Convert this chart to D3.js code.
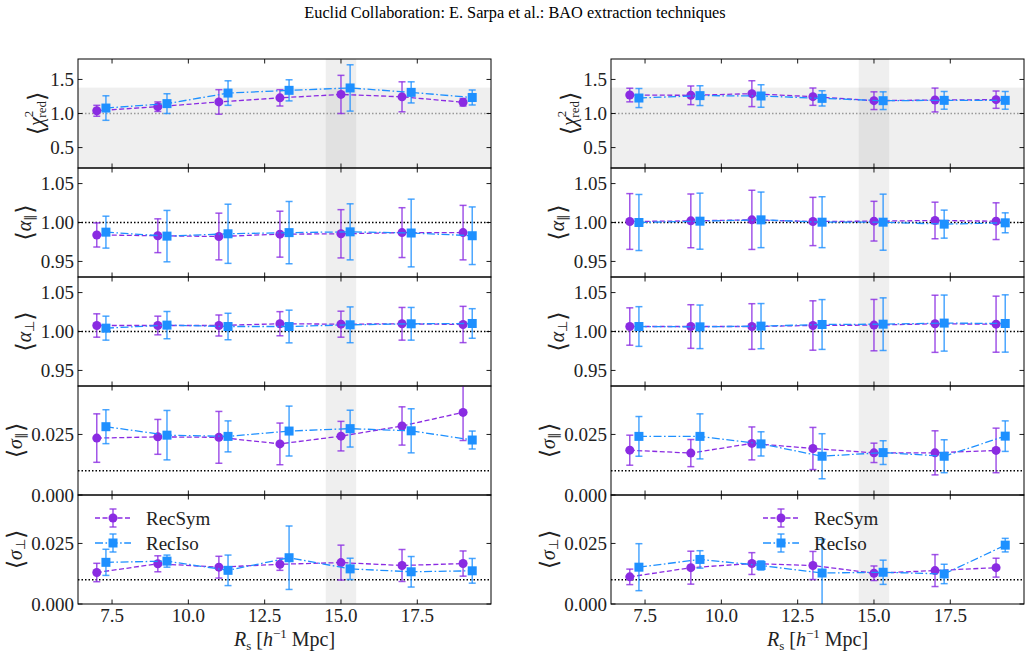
<!DOCTYPE html>
<html><head><meta charset="utf-8">
<script src="https://cdn.jsdelivr.net/npm/d3@7"></script>
<style>body{margin:0;background:#fff} svg text{font-family:"Liberation Serif",serif;}</style>
</head><body>
<svg id="c" width="1031" height="657" xmlns="http://www.w3.org/2000/svg"></svg>
<script>
// ---------------- DATA ----------------
const RsSym = [7, 9, 11, 13, 15, 17, 19];
const RsIso = [7.3, 9.3, 11.3, 13.3, 15.3, 17.3, 19.3];
const seriesNames = ["RecSym", "RecIso"];
const xTicks = [7.5, 10.0, 12.5, 15.0, 17.5];
const chiTicks = [0.5, 1.0, 1.5];
const alphaTicks = [0.95, 1.00, 1.05];
const sigmaTicks = [0.000, 0.025];
const bandRs = [14.5, 15.5];
const chiBandTop = 1.38;

// Left column
const L_chiSym = [1.04, 1.10, 1.17, 1.23, 1.28, 1.245, 1.165];
const L_chiSymErr = [0.08, 0.07, 0.18, 0.12, 0.28, 0.22, 0.055];
const L_chiIso = [1.08, 1.145, 1.30, 1.34, 1.375, 1.31, 1.235];
const L_chiIsoErr = [0.18, 0.145, 0.18, 0.155, 0.34, 0.155, 0.11];
const L_apaSym = [0.984, 0.983, 0.982, 0.985, 0.9855, 0.987, 0.987];
const L_apaSymErr = [0.0155, 0.0217, 0.030, 0.0295, 0.031, 0.032, 0.035];
const L_apaIso = [0.9876, 0.9825, 0.9855, 0.987, 0.988, 0.9865, 0.983];
const L_apaIsoErr = [0.0205, 0.033, 0.038, 0.040, 0.036, 0.0435, 0.037];
const L_apeSym = [1.0077, 1.0077, 1.0077, 1.0100, 1.0094, 1.0099, 1.0090];
const L_apeSymErr = [0.015, 0.012, 0.0135, 0.0155, 0.0167, 0.021, 0.0233];
const L_apeIso = [1.0043, 1.0082, 1.0064, 1.0064, 1.0086, 1.0099, 1.0103];
const L_apeIsoErr = [0.0154, 0.0175, 0.017, 0.021, 0.023, 0.021, 0.019];
const L_spaSym = [0.0235, 0.0240, 0.0238, 0.0211, 0.0243, 0.0285, 0.0341];
const L_spaSymErr = [0.0100, 0.0072, 0.0107, 0.0086, 0.0061, 0.0079, 0.0116];
const L_spaIso = [0.0282, 0.0247, 0.0242, 0.0264, 0.0274, 0.0265, 0.0227];
const L_spaIsoErr = [0.0070, 0.0102, 0.0064, 0.0103, 0.0076, 0.0091, 0.0037];
const L_speSym = [0.0130, 0.0166, 0.0152, 0.0164, 0.0171, 0.0159, 0.0167];
const L_speSymErr = [0.0038, 0.0033, 0.0045, 0.0025, 0.0072, 0.0066, 0.0052];
const L_speIso = [0.0172, 0.0177, 0.0139, 0.0191, 0.0145, 0.0133, 0.0137];
const L_speIsoErr = [0.0054, 0.0025, 0.0063, 0.0131, 0.0044, 0.0063, 0.0051];

// Right column
const R_chiSym = [1.271, 1.267, 1.291, 1.247, 1.188, 1.198, 1.203];
const R_chiSymErr = [0.10, 0.137, 0.19, 0.127, 0.13, 0.175, 0.127];
const R_chiIso = [1.227, 1.262, 1.257, 1.222, 1.188, 1.193, 1.193];
const R_chiIsoErr = [0.14, 0.145, 0.165, 0.112, 0.13, 0.13, 0.13];
const R_apaSym = [1.0013, 1.0021, 1.0034, 1.0013, 1.0017, 1.0026, 1.0017];
const R_apaSymErr = [0.0358, 0.0345, 0.038, 0.031, 0.0255, 0.0235, 0.0236];
const R_apaIso = [1.0000, 1.0017, 1.0034, 1.0004, 1.0004, 0.9979, 0.9996];
const R_apaIsoErr = [0.036, 0.036, 0.0357, 0.0327, 0.036, 0.018, 0.0128];
const R_apeSym = [1.0064, 1.0064, 1.0064, 1.0077, 1.0082, 1.0099, 1.0094];
const R_apeSymErr = [0.024, 0.028, 0.0293, 0.0317, 0.033, 0.0367, 0.036];
const R_apeIso = [1.0064, 1.0060, 1.0069, 1.0090, 1.0094, 1.0108, 1.0103];
const R_apeIsoErr = [0.0255, 0.028, 0.029, 0.032, 0.0338, 0.036, 0.0368];
const R_spaSym = [0.0185, 0.0173, 0.0213, 0.0192, 0.0174, 0.0174, 0.0184];
const R_spaSymErr = [0.0062, 0.0056, 0.0068, 0.0087, 0.0040, 0.0091, 0.0092];
const R_spaIso = [0.0242, 0.0242, 0.0211, 0.0160, 0.0175, 0.0160, 0.0243];
const R_spaIsoErr = [0.0082, 0.0093, 0.0050, 0.0093, 0.0049, 0.0068, 0.0063];
const R_speSym = [0.0112, 0.0150, 0.0167, 0.0159, 0.0127, 0.0138, 0.0150];
const R_speSymErr = [0.0032, 0.0068, 0.0045, 0.0058, 0.0030, 0.0066, 0.0039];
const R_speIso = [0.0152, 0.0184, 0.0159, 0.0128, 0.0131, 0.0124, 0.0243];
const R_speIsoErr = [0.0097, 0.0036, 0.0019, 0.0139, 0.0050, 0.0040, 0.0028];

// ---------------- LAYOUT / STYLE ----------------
const W = 1031, H = 657;
const colX = [[78, 491], [611, 1024]];
const rowTop = 59, rowH = 109;
const cSym = "#8a2be2", cIso = "#1e90ff";
const FONT = "Liberation Serif, serif";

const rows = [
  {id: "chi", domain: [0.2, 1.8], ticks: chiTicks, fmt: d3.format(".1f"), ref: 1.0, refColor: "#999", labOff: 40,
   data: [[L_chiSym, L_chiSymErr, L_chiIso, L_chiIsoErr], [R_chiSym, R_chiSymErr, R_chiIso, R_chiIsoErr]]},
  {id: "apa", domain: [0.93, 1.07], ticks: alphaTicks, fmt: d3.format(".2f"), ref: 1.0, refColor: "#000", labOff: 52,
   data: [[L_apaSym, L_apaSymErr, L_apaIso, L_apaIsoErr], [R_apaSym, R_apaSymErr, R_apaIso, R_apaIsoErr]]},
  {id: "ape", domain: [0.93, 1.07], ticks: alphaTicks, fmt: d3.format(".2f"), ref: 1.0, refColor: "#000", labOff: 52,
   data: [[L_apeSym, L_apeSymErr, L_apeIso, L_apeIsoErr], [R_apeSym, R_apeSymErr, R_apeIso, R_apeIsoErr]]},
  {id: "spa", domain: [0, 0.045], ticks: sigmaTicks, fmt: d3.format(".3f"), ref: 0.01, refColor: "#000", labOff: 61,
   data: [[L_spaSym, L_spaSymErr, L_spaIso, L_spaIsoErr], [R_spaSym, R_spaSymErr, R_spaIso, R_spaIsoErr]]},
  {id: "spe", domain: [0, 0.045], ticks: sigmaTicks, fmt: d3.format(".3f"), ref: 0.01, refColor: "#000", labOff: 61,
   data: [[L_speSym, L_speSymErr, L_speIso, L_speIsoErr], [R_speSym, R_speSymErr, R_speIso, R_speIsoErr]]}
];

const svg = d3.select("#c");
svg.append("rect").attr("width", W).attr("height", H).attr("fill", "#fff");

svg.append("text").attr("x", 515).attr("y", 18).attr("text-anchor", "middle")
  .style("font-family", FONT).attr("font-size", 16.3).attr("fill", "#000")
  .text("Euclid Collaboration: E. Sarpa et al.: BAO extraction techniques");

const defs = svg.append("defs");

function ylabel(g, id, x, y) {
  const t = g.append("text").attr("transform", `translate(${x},${y}) rotate(-90)`)
    .attr("text-anchor", "middle").style("font-family", FONT).attr("font-size", 20).attr("fill", "#222")
    .attr("dominant-baseline", "middle");
  t.append("tspan").attr("font-size", 24).style("font-family", "DejaVu Serif, serif").text("\u27E8");
  if (id === "chi") {
    t.append("tspan").attr("font-style", "italic").text("\u03C7");
    t.append("tspan").attr("font-size", 13).attr("dy", -8).text("2");
    t.append("tspan").attr("font-size", 13).attr("dx", -7).attr("dy", 13).text("red");
    t.append("tspan").attr("font-size", 24).attr("dy", -5).style("font-family", "DejaVu Serif, serif").text("\u27E9");
  } else {
    const sym = (id === "apa" || id === "ape") ? "\u03B1" : "\u03C3";
    const sub = (id === "apa" || id === "spa") ? "\u2225" : "\u22A5";
    t.append("tspan").attr("font-style", "italic").text(sym);
    t.append("tspan").attr("font-size", 13).attr("dy", 5).text(sub);
    t.append("tspan").attr("font-size", 24).attr("dy", -5).style("font-family", "DejaVu Serif, serif").text("\u27E9");
  }
}

colX.forEach((cx, ci) => {
  const x = d3.scaleLinear().domain([6.385, 19.915]).range(cx);
  rows.forEach((r, ri) => {
    const y0 = rowTop + ri * rowH, y1 = y0 + rowH;
    const y = d3.scaleLinear().domain(r.domain).range([y1, y0]);
    const g = svg.append("g");
    const cid = `clip${ci}${ri}`;
    defs.append("clipPath").attr("id", cid).append("rect")
      .attr("x", cx[0]).attr("y", y0).attr("width", cx[1] - cx[0]).attr("height", rowH);
    const pg = g.append("g").attr("clip-path", `url(#${cid})`);

    if (r.id === "chi") {
      pg.append("rect").attr("x", cx[0]).attr("width", cx[1] - cx[0])
        .attr("y", y(chiBandTop)).attr("height", y1 - y(chiBandTop))
        .attr("fill", "#808080").attr("fill-opacity", 0.13);
    }
    pg.append("rect").attr("x", x(bandRs[0])).attr("width", x(bandRs[1]) - x(bandRs[0]))
      .attr("y", y0).attr("height", rowH).attr("fill", "#808080").attr("fill-opacity", 0.13);

    pg.append("line").attr("x1", cx[0]).attr("x2", cx[1]).attr("y1", y(r.ref)).attr("y2", y(r.ref))
      .attr("stroke", r.refColor).attr("stroke-width", 1.5).attr("stroke-dasharray", "1.5,2");

    const [vS, eS, vI, eI] = r.data[ci];
    const series = [
      {xs: RsSym, v: vS, e: eS, c: cSym, dash: "5,2.5", shape: "circle"},
      {xs: RsIso, v: vI, e: eI, c: cIso, dash: "8,2.5,1.6,2.5", shape: "square"}
    ];
    series.forEach(s => {
      const pts = s.xs.map((xx, i) => ({x: xx, v: s.v[i], e: s.e[i]}));
      pg.append("path").attr("d", d3.line().x(d => x(d.x)).y(d => y(d.v))(pts))
        .attr("fill", "none").attr("stroke", s.c).attr("stroke-width", 1.3).attr("stroke-dasharray", s.dash);
      const eg = pg.append("g").attr("stroke", s.c).attr("stroke-width", 1.5).attr("stroke-opacity", 0.8);
      pts.forEach(p => {
        const px = x(p.x), yt = y(p.v + p.e), yb = y(p.v - p.e);
        eg.append("line").attr("x1", px).attr("x2", px).attr("y1", yt).attr("y2", yb);
        eg.append("line").attr("x1", px - 3.5).attr("x2", px + 3.5).attr("y1", yt).attr("y2", yt);
        eg.append("line").attr("x1", px - 3.5).attr("x2", px + 3.5).attr("y1", yb).attr("y2", yb);
      });
      pts.forEach(p => {
        if (s.shape === "circle") pg.append("circle").attr("cx", x(p.x)).attr("cy", y(p.v)).attr("r", 4.5).attr("fill", s.c);
        else pg.append("rect").attr("x", x(p.x) - 4.5).attr("y", y(p.v) - 4.5).attr("width", 9).attr("height", 9).attr("fill", s.c);
      });
    });

    g.append("rect").attr("x", cx[0]).attr("y", y0).attr("width", cx[1] - cx[0]).attr("height", rowH)
      .attr("fill", "none").attr("stroke", "#000").attr("stroke-width", 1);
    const tk = g.append("g").attr("stroke", "#000").attr("stroke-width", 0.9);
    xTicks.forEach(t => {
      tk.append("line").attr("x1", x(t)).attr("x2", x(t)).attr("y1", y1).attr("y2", y1 - 4.5);
      tk.append("line").attr("x1", x(t)).attr("x2", x(t)).attr("y1", y0).attr("y2", y0 + 4.5);
    });
    r.ticks.forEach(t => {
      tk.append("line").attr("x1", cx[0]).attr("x2", cx[0] + 4.5).attr("y1", y(t)).attr("y2", y(t));
      tk.append("line").attr("x1", cx[1]).attr("x2", cx[1] - 4.5).attr("y1", y(t)).attr("y2", y(t));
      g.append("text").attr("x", cx[0] - 4).attr("y", y(t)).attr("text-anchor", "end")
        .attr("dominant-baseline", "central").style("font-family", FONT).attr("font-size", 19)
        .attr("fill", "#222").text(r.fmt(t));
    });
    ylabel(g, r.id, cx[0] - r.labOff, (y0 + y1) / 2);

    if (ri === rows.length - 1) {
      xTicks.forEach(t => {
        g.append("text").attr("x", x(t)).attr("y", y1 + 18).attr("text-anchor", "middle")
          .style("font-family", FONT).attr("font-size", 19).attr("fill", "#222").text(d3.format(".1f")(t));
      });
      const xl = g.append("text").attr("x", (cx[0] + cx[1]) / 2).attr("y", y1 + 42).attr("text-anchor", "middle")
        .style("font-family", FONT).attr("font-size", 20).attr("fill", "#222");
      xl.append("tspan").attr("font-style", "italic").text("R");
      xl.append("tspan").attr("font-size", 13).attr("dy", 4).text("s");
      xl.append("tspan").attr("dy", -4).text(" [");
      xl.append("tspan").attr("font-style", "italic").text("h");
      xl.append("tspan").attr("font-size", 13).attr("dy", -8).text("\u22121");
      xl.append("tspan").attr("dy", 8).text(" Mpc]");

      const lx = ci === 0 ? 95 : 763;
      const ly = [518, 543];
      series.forEach((s, si) => {
        const lg = g.append("g");
        const yy = ly[si];
        lg.append("line").attr("x1", lx).attr("x2", lx + 36).attr("y1", yy).attr("y2", yy)
          .attr("stroke", s.c).attr("stroke-width", 1.3).attr("stroke-dasharray", s.dash);
        const mx = lx + 18;
        const eg = lg.append("g").attr("stroke", s.c).attr("stroke-width", 1.5).attr("stroke-opacity", 0.8);
        eg.append("line").attr("x1", mx).attr("x2", mx).attr("y1", yy - 9).attr("y2", yy + 9);
        eg.append("line").attr("x1", mx - 3.5).attr("x2", mx + 3.5).attr("y1", yy - 9).attr("y2", yy - 9);
        eg.append("line").attr("x1", mx - 3.5).attr("x2", mx + 3.5).attr("y1", yy + 9).attr("y2", yy + 9);
        if (s.shape === "circle") lg.append("circle").attr("cx", mx).attr("cy", yy).attr("r", 4.5).attr("fill", s.c);
        else lg.append("rect").attr("x", mx - 4.5).attr("y", yy - 4.5).attr("width", 9).attr("height", 9).attr("fill", s.c);
        lg.append("text").attr("x", lx + 51).attr("y", yy).attr("dominant-baseline", "central")
          .style("font-family", FONT).attr("font-size", 19).attr("fill", "#222").text(seriesNames[si]);
      });
    }
  });
});
</script>
</body></html>
